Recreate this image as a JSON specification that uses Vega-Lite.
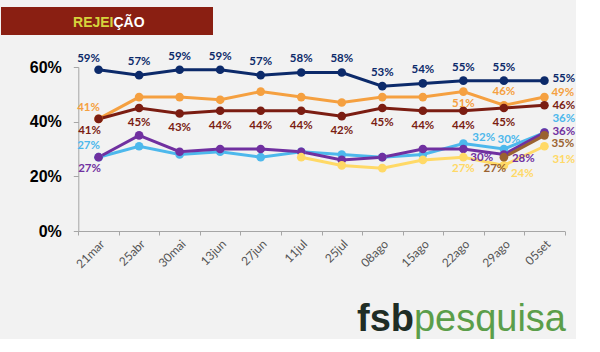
{
  "$schema": "https://vega.github.io/schema/vega-lite/v6.json",
  "background": "#f2f2f2",
  "padding": {"left": 0, "top": 7, "right": 0, "bottom": 0},
  "config": {"view": {"stroke": null}, "font": "Lato"},
  "datasets": {
    "rej": [
      {"d": "21mar", "s": "azul", "v": 0.59}, {"d": "25abr", "s": "azul", "v": 0.57}, {"d": "30mai", "s": "azul", "v": 0.59}, {"d": "13jun", "s": "azul", "v": 0.59}, {"d": "27jun", "s": "azul", "v": 0.57}, {"d": "11jul", "s": "azul", "v": 0.58}, {"d": "25jul", "s": "azul", "v": 0.58}, {"d": "08ago", "s": "azul", "v": 0.53}, {"d": "15ago", "s": "azul", "v": 0.54}, {"d": "22ago", "s": "azul", "v": 0.55}, {"d": "29ago", "s": "azul", "v": 0.55}, {"d": "05set", "s": "azul", "v": 0.55},
      {"d": "21mar", "s": "laranja", "v": 0.41}, {"d": "25abr", "s": "laranja", "v": 0.49}, {"d": "30mai", "s": "laranja", "v": 0.49}, {"d": "13jun", "s": "laranja", "v": 0.48}, {"d": "27jun", "s": "laranja", "v": 0.51}, {"d": "11jul", "s": "laranja", "v": 0.49}, {"d": "25jul", "s": "laranja", "v": 0.47}, {"d": "08ago", "s": "laranja", "v": 0.49}, {"d": "15ago", "s": "laranja", "v": 0.49}, {"d": "22ago", "s": "laranja", "v": 0.51}, {"d": "29ago", "s": "laranja", "v": 0.46}, {"d": "05set", "s": "laranja", "v": 0.49},
      {"d": "21mar", "s": "vermelho", "v": 0.41}, {"d": "25abr", "s": "vermelho", "v": 0.45}, {"d": "30mai", "s": "vermelho", "v": 0.43}, {"d": "13jun", "s": "vermelho", "v": 0.44}, {"d": "27jun", "s": "vermelho", "v": 0.44}, {"d": "11jul", "s": "vermelho", "v": 0.44}, {"d": "25jul", "s": "vermelho", "v": 0.42}, {"d": "08ago", "s": "vermelho", "v": 0.45}, {"d": "15ago", "s": "vermelho", "v": 0.44}, {"d": "22ago", "s": "vermelho", "v": 0.44}, {"d": "29ago", "s": "vermelho", "v": 0.45}, {"d": "05set", "s": "vermelho", "v": 0.46},
      {"d": "21mar", "s": "azul-claro", "v": 0.27}, {"d": "25abr", "s": "azul-claro", "v": 0.31}, {"d": "30mai", "s": "azul-claro", "v": 0.28}, {"d": "13jun", "s": "azul-claro", "v": 0.29}, {"d": "27jun", "s": "azul-claro", "v": 0.27}, {"d": "11jul", "s": "azul-claro", "v": 0.29}, {"d": "25jul", "s": "azul-claro", "v": 0.28}, {"d": "08ago", "s": "azul-claro", "v": 0.27}, {"d": "15ago", "s": "azul-claro", "v": 0.28}, {"d": "22ago", "s": "azul-claro", "v": 0.32}, {"d": "29ago", "s": "azul-claro", "v": 0.30}, {"d": "05set", "s": "azul-claro", "v": 0.36},
      {"d": "21mar", "s": "roxo", "v": 0.27}, {"d": "25abr", "s": "roxo", "v": 0.35}, {"d": "30mai", "s": "roxo", "v": 0.29}, {"d": "13jun", "s": "roxo", "v": 0.30}, {"d": "27jun", "s": "roxo", "v": 0.30}, {"d": "11jul", "s": "roxo", "v": 0.29}, {"d": "25jul", "s": "roxo", "v": 0.26}, {"d": "08ago", "s": "roxo", "v": 0.27}, {"d": "15ago", "s": "roxo", "v": 0.30}, {"d": "22ago", "s": "roxo", "v": 0.30}, {"d": "29ago", "s": "roxo", "v": 0.28}, {"d": "05set", "s": "roxo", "v": 0.36},
      {"d": "11jul", "s": "amarelo", "v": 0.27}, {"d": "25jul", "s": "amarelo", "v": 0.24}, {"d": "08ago", "s": "amarelo", "v": 0.23}, {"d": "15ago", "s": "amarelo", "v": 0.26}, {"d": "22ago", "s": "amarelo", "v": 0.27}, {"d": "29ago", "s": "amarelo", "v": 0.24}, {"d": "05set", "s": "amarelo", "v": 0.31},
      {"d": "29ago", "s": "marrom", "v": 0.27}, {"d": "05set", "s": "marrom", "v": 0.35}
    ]
  },
  "columns": 1,
  "spacing": 15,
  "concat": [
    {
      "width": 212,
      "height": 28,
      "view": {"fill": "#8a1f12", "stroke": null},
      "data": {"values": [{"t1": "REJEI", "t2": "ÇÃO"}]},
      "layer": [
        {"mark": {"type": "text", "align": "right", "baseline": "middle", "dx": 6.5, "dy": 2, "font": "Liberation Sans", "fontWeight": "bold", "fontSize": 14, "color": "#d6d43c"}, "encoding": {"text": {"field": "t1"}}},
        {"mark": {"type": "text", "align": "left", "baseline": "middle", "dx": 6.5, "dy": 2, "font": "Liberation Sans", "fontWeight": "bold", "fontSize": 14, "color": "#ffffff"}, "encoding": {"text": {"field": "t2"}}}
      ]
    },
    {
      "width": 564,
      "height": 164,
      "data": {"name": "rej"},
      "encoding": {
        "x": {"field": "d", "type": "ordinal",
          "sort": ["21mar", "25abr", "30mai", "13jun", "27jun", "11jul", "25jul", "08ago", "15ago", "22ago", "29ago", "05set"],
          "scale": {"type": "band", "range": [77.3, 563.7], "paddingInner": 0, "paddingOuter": 0},
          "axis": {"title": null, "labelAngle": -45, "labelFont": "Lato", "labelFontSize": 12, "labelColor": "#555555", "tickBand": "extent", "tickSize": 4, "tickColor": "#a6a6a6", "domainColor": "#a6a6a6", "labelPadding": 3, "grid": false}},
        "y": {"field": "v", "type": "quantitative",
          "scale": {"domain": [0, 0.6]},
          "axis": {"title": null, "values": [0, 0.2, 0.4, 0.6], "format": ".0%", "offset": -77.3, "labelFont": "Liberation Sans", "labelFontWeight": "bold", "labelFontSize": 16, "labelColor": "#000000", "labelPadding": 12, "tickSize": 5, "tickColor": "#a6a6a6", "domainColor": "#a6a6a6", "grid": false}},
        "color": {"field": "s", "type": "nominal", "legend": null,
          "scale": {"domain": ["amarelo", "azul-claro", "roxo", "marrom", "laranja", "vermelho", "azul"],
                    "range": ["#ffd966", "#4db8ec", "#7030a0", "#9a6230", "#f5a040", "#7b1d12", "#0c2a6a"]}}
      },
      "layer": [
        {"mark": {"type": "line", "strokeWidth": 3}, "encoding": {}},
        {"mark": {"type": "point", "filled": true, "size": 75, "opacity": 1}},
        {"transform": [{"filter": "(datum.s=='azul' && datum.d!='21mar' && datum.d!='05set') || (datum.s=='laranja' && datum.d=='29ago')"}],
          "mark": {"type": "text", "align": "center", "baseline": "middle", "dx": 0, "dy": -13, "font": "Lato", "fontWeight": "bold", "fontSize": 11.5},
          "encoding": {"text": {"field": "v", "format": ".0%"}}},
        {"transform": [{"filter": "datum.d=='21mar' && (datum.s=='azul' || datum.s=='laranja' || datum.s=='azul-claro')"}],
          "mark": {"type": "text", "align": "center", "baseline": "middle", "dx": -10, "dy": -11, "font": "Lato", "fontWeight": "bold", "fontSize": 11.5},
          "encoding": {"text": {"field": "v", "format": ".0%"}}},
        {"transform": [{"filter": "datum.s=='vermelho' && datum.d!='21mar' && datum.d!='05set'"}],
          "mark": {"type": "text", "align": "center", "baseline": "middle", "dx": 0, "dy": 15, "font": "Lato", "fontWeight": "bold", "fontSize": 11.5},
          "encoding": {"text": {"field": "v", "format": ".0%"}}},
        {"transform": [{"filter": "datum.d=='22ago' && (datum.s=='laranja' || datum.s=='amarelo')"}],
          "mark": {"type": "text", "align": "center", "baseline": "middle", "dx": 0, "dy": 12, "font": "Lato", "fontWeight": "bold", "fontSize": 11.5},
          "encoding": {"text": {"field": "v", "format": ".0%"}}},
        {"transform": [{"filter": "(datum.d=='21mar' && (datum.s=='vermelho' || datum.s=='roxo')) || (datum.d=='29ago' && datum.s=='marrom')"}],
          "mark": {"type": "text", "align": "center", "baseline": "middle", "dx": -9, "dy": 12, "font": "Lato", "fontWeight": "bold", "fontSize": 11.5},
          "encoding": {"text": {"field": "v", "format": ".0%"}}},
        {"transform": [{"filter": "datum.d=='05set' && datum.s=='azul'"}],
          "mark": {"type": "text", "align": "left", "baseline": "middle", "dx": 8, "dy": -2, "font": "Lato", "fontWeight": "bold", "fontSize": 11.5},
          "encoding": {"text": {"field": "v", "format": ".0%"}}},
        {"transform": [{"filter": "datum.d=='05set' && datum.s=='roxo'"}],
          "mark": {"type": "text", "align": "left", "baseline": "middle", "dx": 8, "dy": -1, "font": "Lato", "fontWeight": "bold", "fontSize": 11.5},
          "encoding": {"text": {"field": "v", "format": ".0%"}}},
        {"transform": [{"filter": "datum.d=='05set' && datum.s=='laranja'"}],
          "mark": {"type": "text", "align": "left", "baseline": "middle", "dx": 7, "dy": -4.5, "font": "Lato", "fontWeight": "bold", "fontSize": 11.5},
          "encoding": {"text": {"field": "v", "format": ".0%"}}},
        {"transform": [{"filter": "datum.d=='05set' && datum.s=='vermelho'"}],
          "mark": {"type": "text", "align": "left", "baseline": "middle", "dx": 8, "dy": 0.5, "font": "Lato", "fontWeight": "bold", "fontSize": 11.5},
          "encoding": {"text": {"field": "v", "format": ".0%"}}},
        {"transform": [{"filter": "datum.d=='05set' && datum.s=='azul-claro'"}],
          "mark": {"type": "text", "align": "left", "baseline": "middle", "dx": 8, "dy": -14, "font": "Lato", "fontWeight": "bold", "fontSize": 11.5},
          "encoding": {"text": {"field": "v", "format": ".0%"}}},
        {"transform": [{"filter": "datum.d=='22ago' && datum.s=='azul-claro'"}],
          "mark": {"type": "text", "align": "left", "baseline": "middle", "dx": 9, "dy": -6, "font": "Lato", "fontWeight": "bold", "fontSize": 11.5},
          "encoding": {"text": {"field": "v", "format": ".0%"}}},
        {"transform": [{"filter": "datum.d=='29ago' && datum.s=='azul-claro'"}],
          "mark": {"type": "text", "align": "center", "baseline": "middle", "dx": 5, "dy": -9, "font": "Lato", "fontWeight": "bold", "fontSize": 11.5},
          "encoding": {"text": {"field": "v", "format": ".0%"}}},
        {"transform": [{"filter": "(datum.d=='22ago' && datum.s=='roxo') || (datum.d=='29ago' && datum.s=='amarelo') || (datum.d=='05set' && datum.s=='marrom')"}],
          "mark": {"type": "text", "align": "left", "baseline": "middle", "dx": 7, "dy": 9, "font": "Lato", "fontWeight": "bold", "fontSize": 11.5},
          "encoding": {"text": {"field": "v", "format": ".0%"}}},
        {"transform": [{"filter": "datum.d=='29ago' && datum.s=='roxo'"}],
          "mark": {"type": "text", "align": "left", "baseline": "middle", "dx": 8, "dy": 5, "font": "Lato", "fontWeight": "bold", "fontSize": 11.5},
          "encoding": {"text": {"field": "v", "format": ".0%"}}},
        {"transform": [{"filter": "datum.d=='05set' && datum.s=='amarelo'"}],
          "mark": {"type": "text", "align": "left", "baseline": "middle", "dx": 8, "dy": 14, "font": "Lato", "fontWeight": "bold", "fontSize": 11.5},
          "encoding": {"text": {"field": "v", "format": ".0%"}}}
      ]
    },
    {
      "width": 564,
      "height": 46,
      "data": {"values": [{"a": "fsb", "b": "pesquisa"}]},
      "layer": [
        {"mark": {"type": "text", "align": "right", "baseline": "alphabetic", "dx": 1, "font": "Liberation Sans", "fontSize": 38, "color": "#5b9e4a"},
          "encoding": {"text": {"field": "b"}, "x": {"value": "width"}, "y": {"value": "height"}}},
        {"mark": {"type": "text", "align": "right", "baseline": "alphabetic", "dx": -151, "font": "Liberation Sans", "fontWeight": "bold", "fontSize": 38, "color": "#1f2d25"},
          "encoding": {"text": {"field": "a"}, "x": {"value": "width"}, "y": {"value": "height"}}}
      ]
    }
  ]
}
